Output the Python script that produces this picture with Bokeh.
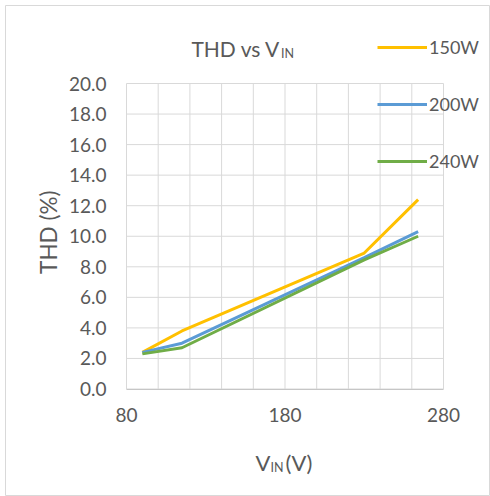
import math
from bokeh.plotting import figure
from bokeh.models import (Range1d, FixedTicker, NumeralTickFormatter, Legend, LegendItem, Label)
from bokeh.embed import file_html
from bokeh.resources import INLINE

# ---- data ----
vin = [90, 115, 230, 264]
thd_150w = [2.4, 3.8, 8.9, 12.4]
thd_200w = [2.4, 3.0, 8.6, 10.3]
thd_240w = [2.3, 2.7, 8.45, 10.0]
series_names = ["150W", "200W", "240W"]
x_min, x_max = 80, 280
y_min, y_max = 0, 20
x_major_ticks = [80, 180, 280]
x_minor_ticks = [100, 120, 140, 160, 200, 220, 240, 260]
y_ticks = [0, 2, 4, 6, 8, 10, 12, 14, 16, 18, 20]

FONT = "Lato"
TXT = "#595959"
GRID = "#d9d9d9"
W, H = 490, 496
# outer chart box (canvas px) and inner plot area (canvas px)
FL, FT, FR, FB = 5, 5, 489, 495
PL, PR, PT, PB = 126, 443, 83, 388.5

sx = (PR - PL) / (x_max - x_min)
sy = (PB - PT) / (y_max - y_min)
xr = Range1d(x_min - (PL - FL) / sx, x_max + (FR - PR) / sx)
yr = Range1d(y_min - (FB - PB) / sy, y_max + (PT - FT) / sy)

p = figure(width=W, height=H, output_backend="svg", toolbar_location=None,
           x_range=xr, y_range=yr,
           min_border_left=FL, min_border_right=W - FR, min_border_top=FT, min_border_bottom=H - FB)
p.outline_line_color = GRID
p.outline_line_width = 1
p.background_fill_color = "white"
p.border_fill_color = "white"
p.grid.visible = False

p.xaxis.ticker = FixedTicker(ticks=x_major_ticks, minor_ticks=x_minor_ticks)
p.yaxis.ticker = FixedTicker(ticks=y_ticks)
p.yaxis.formatter = NumeralTickFormatter(format="0.0")
p.xaxis.fixed_location = y_min
p.yaxis.fixed_location = x_min
for ax in (p.xaxis, p.yaxis):
    ax.axis_line_color = None
    ax.major_tick_line_color = None
    ax.minor_tick_line_color = None
    ax.major_tick_out = 0
    ax.major_tick_in = 0
    ax.major_label_text_font = FONT
    ax.major_label_text_font_size = "19px"
    ax.major_label_text_color = TXT
p.yaxis.major_label_standoff = 20
p.xaxis.major_label_standoff = 15

# grid lines limited to the plot area
grid_x = sorted(x_major_ticks + x_minor_ticks)
p.segment(x0=grid_x, y0=[y_min] * len(grid_x), x1=grid_x, y1=[y_max] * len(grid_x),
          line_color=GRID, line_width=1)
p.segment(x0=[x_min] * len(y_ticks), y0=y_ticks, x1=[x_max] * len(y_ticks), y1=y_ticks,
          line_color=GRID, line_width=1)

# horizontal axis line (slightly darker than the grid)
p.xaxis.bounds = (x_min, x_max)
p.xaxis.axis_line_color = "#c6c6c6"
p.xaxis.axis_line_width = 1

colors = ["#FFC000", "#5B9BD5", "#70AD47"]
renderers = []
for ys, c in zip([thd_150w, thd_200w, thd_240w], colors):
    renderers.append(p.line(vin, ys, line_color=c, line_width=3))

legend = Legend(items=[LegendItem(label=n, renderers=[r]) for n, r in zip(series_names, renderers)],
                location=(377 - FL, FB - 172.3), orientation="vertical", glyph_width=50, glyph_height=20,
                label_height=20, label_standoff=2, spacing=35, padding=0, margin=0,
                border_line_color=None, background_fill_alpha=0,
                label_text_font=FONT, label_text_font_size="18px", label_text_color=TXT)
p.add_layout(legend, "center")


def add_text(txt, x, y, size, angle=0.0, align="left", baseline="alphabetic"):
    # x, y in canvas pixels from the top-left; converted to frame screen units
    p.add_layout(Label(x=x - FL, y=FB - y, x_units="screen", y_units="screen", text=txt,
                       text_font=FONT, text_font_size=f"{size}px", text_color=TXT,
                       text_align=align, text_baseline=baseline, angle=angle))

# title: THD vs V_IN
add_text("THD vs V", 280, 48.3, 21, align="right")
add_text("IN", 280.5, 53.3, 12.5)
# x axis label: V_IN(V)
add_text("V", 270, 461.7, 22, align="right")
add_text("IN", 270, 467, 12.5)
add_text("(V)", 285, 461.7, 22)
# y axis label
add_text("THD (%)", 47.5, 231.7, 22.5, angle=math.pi / 2, align="center", baseline="middle")

open("out.html", "w").write(file_html(p, INLINE))
